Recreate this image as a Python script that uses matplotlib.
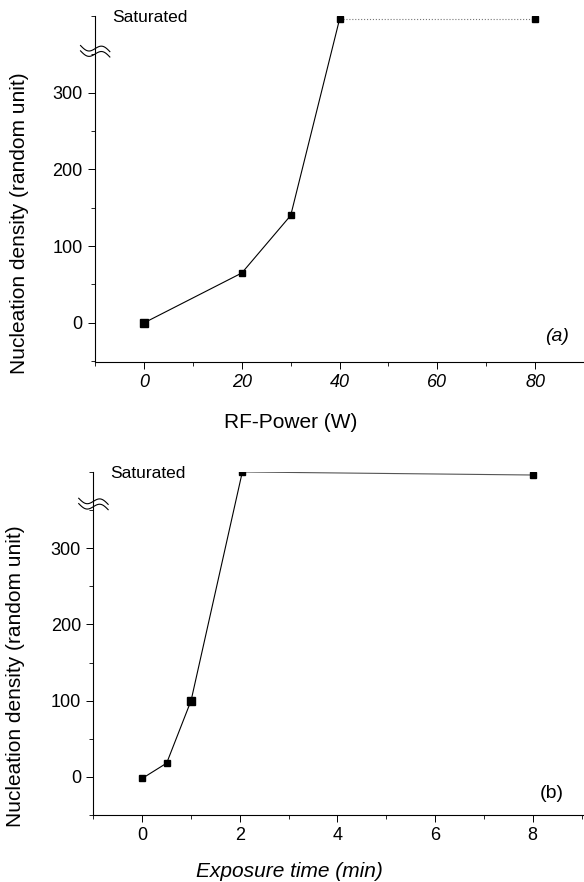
import numpy as np
import matplotlib
matplotlib.use('Agg')
import matplotlib.pyplot as plt
from matplotlib.ticker import MultipleLocator
import matplotlib.transforms as mtransforms

plt.rcParams['font.family'] = ['Liberation Sans', 'DejaVu Sans']

# panel (a): nucleation density vs RF power
power = [0, 20, 30, 40, 80]
density_a = [0, 65, 140, 396, 396]

# panel (b): nucleation density vs exposure time
time_min = [0, 0.5, 1, 2.05, 8]
density_b = [-2, 18, 100, 400, 396]

fig = plt.figure(figsize=(5.84, 8.82), dpi=100)
ax_a = fig.add_axes([0.163, 0.5896, 0.837, 0.3923])
ax_b = fig.add_axes([0.160, 0.0760, 0.840, 0.3889])


def style_axes(ax, xlim, ylim, xmajor, xminor):
    ax.set_xlim(*xlim)
    ax.set_ylim(*ylim)
    for side in ('top', 'right'):
        ax.spines[side].set_visible(False)
    for side in ('left', 'bottom'):
        ax.spines[side].set_linewidth(0.8)
    ax.xaxis.set_major_locator(MultipleLocator(xmajor))
    ax.xaxis.set_minor_locator(MultipleLocator(xminor))
    ax.set_yticks([0, 100, 200, 300])
    ax.yaxis.set_minor_locator(MultipleLocator(50))
    ax.tick_params(which='major', direction='out', length=5, width=0.7, labelsize=13, pad=4)
    ax.tick_params(which='minor', direction='out', length=3, width=0.6)
    ax.set_ylabel('Nucleation density (random unit)', fontsize=15)


def axis_break(ax, yval):
    # two small tilde strokes across the y axis
    trans = mtransforms.blended_transform_factory(ax.transAxes, ax.transData)
    t = np.linspace(-1, 1, 40)
    for off in (-3.5, 3.5):
        xs = t * 0.03
        ys = yval + off - 4 * t + 5 * np.sin(np.pi * t)
        ax.plot(xs, ys, color='black', lw=0.8, transform=trans, clip_on=False)


# --- panel (a)
style_axes(ax_a, (-10, 90), (-51, 400), 20, 10)
ax_a.plot(power[:4], density_a[:4], color='black', lw=0.8)
ax_a.plot(power[3:], density_a[3:], color='#777777', lw=0.8, ls=':')
ax_a.plot(power[1:], density_a[1:], 's', color='black', ms=4.3)
ax_a.plot(power[:1], density_a[:1], 's', color='black', ms=5.2)
for lab in ax_a.get_xticklabels():
    lab.set_fontstyle('italic')
ax_a.set_xlabel('RF-Power (W)', fontsize=15)
ax_a.xaxis.set_label_coords(0.40, -0.148)
ax_a.yaxis.set_label_coords(-0.135, 0.40)
ax_a.text(0.035, 0.995, 'Saturated', transform=ax_a.transAxes, fontsize=12.5,
          ha='left', va='center')
ax_a.text(0.945, 0.073, '(a)', transform=ax_a.transAxes, fontsize=14,
          style='italic', ha='center', va='center')
axis_break(ax_a, 354)

# --- panel (b)
style_axes(ax_b, (-1, 9.05), (-50, 400), 2, 1)
ax_b.plot(time_min[:4], density_b[:4], color='black', lw=0.8)
ax_b.plot(time_min[3:], density_b[3:], color='#555555', lw=0.8)
ax_b.plot(time_min, density_b, 's', color='black', ms=4.3)
ax_b.plot(time_min[2:3], density_b[2:3], 's', color='black', ms=5.5)
ax_b.set_xlabel('Exposure time (min)', fontsize=15, style='italic')
ax_b.xaxis.set_label_coords(0.40, -0.137)
ax_b.yaxis.set_label_coords(-0.14, 0.405)
ax_b.text(0.035, 0.995, 'Saturated', transform=ax_b.transAxes, fontsize=12.5,
          ha='left', va='center')
ax_b.text(0.935, 0.064, '(b)', transform=ax_b.transAxes, fontsize=14,
          ha='center', va='center')
axis_break(ax_b, 358)

fig.savefig('out.png', dpi=100)
